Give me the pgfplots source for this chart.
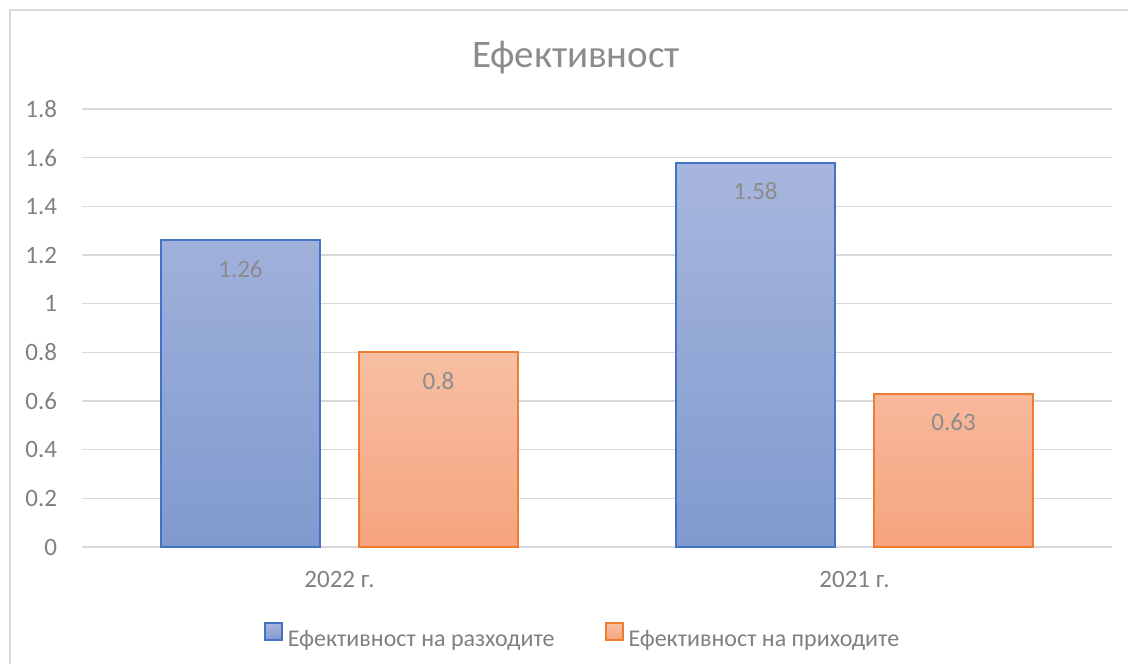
\documentclass[border=0pt]{standalone}
\usepackage{fontspec}
\setmainfont{Carlito}
\usepackage{pgfplots}
\pgfplotsset{compat=1.18}

\definecolor{blueline}{RGB}{68,114,196}
\definecolor{bluetop}{RGB}{167,182,222}
\definecolor{bluebot}{RGB}{128,154,206}
\definecolor{orangeline}{RGB}{237,125,49}
\definecolor{orangetop}{RGB}{247,191,163}
\definecolor{orangebot}{RGB}{246,164,126}
\definecolor{gridgray}{RGB}{217,217,217}
\definecolor{txtgray}{RGB}{128,128,128}
\definecolor{lblgray}{RGB}{140,140,140}

\begin{document}
\begin{tikzpicture}
  % 1 px of the reference = 0.5pt, origin at the lower left of the plot area
  \path[use as bounding box] (-41pt,-58.5pt) rectangle (523pt,273.5pt);
  \draw[gridgray, line width=1pt] (-36pt,-58.5pt) -- (-36pt,268.5pt) -- (523pt,268.5pt);

  \begin{axis}[
    at={(0,0)}, anchor=south west,
    scale only axis, width=515pt, height=219pt,
    ybar=19.5pt, bar width=79.5pt,
    xmin=-0.5, xmax=1.5, ymin=0, ymax=1.8,
    xtick={0,1}, xticklabels={2022 г., 2021 г.},
    ytick={0,0.2,0.4,0.6,0.8,1,1.2,1.4,1.6,1.8},
    major tick length=0pt,
    axis line style={draw=none},
    ymajorgrids=true,
    grid style={gridgray, line width=0.75pt},
    /pgf/number format/assume math mode=true,
    tick label style={font=\fontsize{12.5}{14}\selectfont, text=txtgray},
    yticklabel style={anchor=east, inner sep=0pt, xshift=-12.25pt},
    xticklabel style={anchor=base, inner sep=0pt, yshift=-20pt},
    nodes near coords,
    every node near coord/.append style={
      font=\fontsize{12.5}{14}\selectfont, text=lblgray,
      anchor=base, yshift=-18.5pt},
    legend columns=2,
    legend style={
      at={(0.485,-0.2027)}, anchor=center,
      draw=none, fill=none, inner sep=0pt,
      font=\fontsize{12}{14}\selectfont, text=txtgray,
      /tikz/every odd column/.append style={column sep=2.5pt},
      /tikz/every even column/.append style={column sep=25pt},
      nodes={inner sep=0pt},
    },
    legend image code/.code={
      \draw[#1, line width=1pt] (0pt,0pt) rectangle (8.5pt,8.5pt);
    },
  ]
    \addplot[draw=blueline, line width=1pt, top color=bluetop, bottom color=bluebot]
      coordinates {(0,1.26) (1,1.58)};
    \addplot[draw=orangeline, line width=1pt, top color=orangetop, bottom color=orangebot]
      coordinates {(0,0.8) (1,0.63)};
    \legend{Ефективност на разходите, Ефективност на приходите}
  \end{axis}

  \node[font=\fontsize{19.5}{22}\selectfont, text=lblgray, anchor=base]
    at (247pt,239.5pt) {Ефективност};
\end{tikzpicture}
\end{document}
